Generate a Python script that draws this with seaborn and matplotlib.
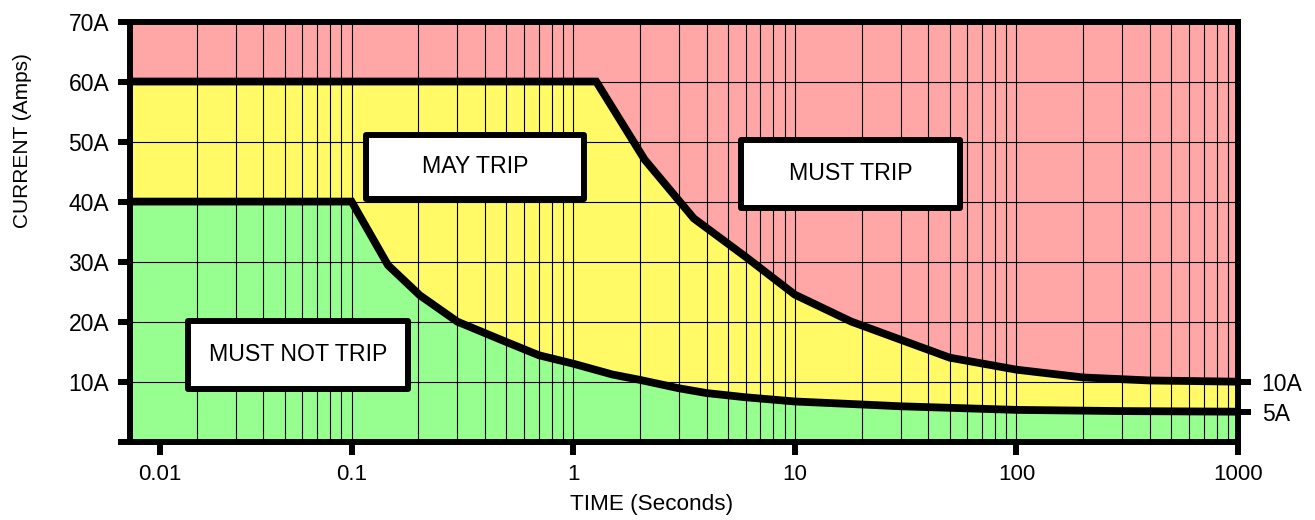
import numpy as np
import matplotlib
matplotlib.use("Agg")
import matplotlib.pyplot as plt
from matplotlib.patches import Rectangle
from matplotlib.ticker import LogLocator, NullLocator
from matplotlib.transforms import ScaledTranslation
import seaborn as sns

# Breaker trip characteristic: time (s) against current (A)
must_not_trip_time = [0.01, 0.1, 0.146, 0.203, 0.30, 0.5, 0.7, 1, 1.5, 2, 3, 4, 6, 10, 20, 30, 100, 300, 1000]
must_not_trip_amps = [40, 40, 29.4, 24.4, 20, 16.6, 14.4, 13, 11.2, 10.3, 8.9, 8.1, 7.4, 6.7, 6.2, 5.9, 5.3, 5.1, 5]

must_trip_time = [0.01, 1.27, 2.1, 3.5, 6, 10, 18, 30, 50, 100, 200, 400, 1000]
must_trip_amps = [60, 60, 47, 37.2, 30.8, 24.5, 20, 17, 14, 12, 10.7, 10.2, 10]

time_ticks = [0.01, 0.1, 1, 10, 100, 1000]
time_tick_labels = ["0.01", "0.1", "1", "10", "100", "1000"]
current_ticks = [0, 10, 20, 30, 40, 50, 60, 70]
current_tick_labels = ["", "10A", "20A", "30A", "40A", "50A", "60A", "70A"]
limit_ticks = [5, 10]
limit_tick_labels = ["5A", "10A"]

zone_labels = ["MUST NOT TRIP", "MAY TRIP", "MUST TRIP"]
# label boxes in axes fraction: (x0, y0, x1, y1)
zone_boxes = [(0.0523, 0.1261, 0.2506, 0.2872),
              (0.2130, 0.5780, 0.4095, 0.7306),
              (0.5514, 0.5569, 0.7490, 0.7180)]

RED = "#FFA6A6"
YELLOW = "#FFFA66"
GREEN = "#96FF8F"

sns.set_theme(style="white")
plt.rcParams["font.family"] = ["Liberation Sans", "DejaVu Sans"]

W, H = 1315, 520
fig = plt.figure(figsize=(W / 100, H / 100), dpi=100)
ax = fig.add_axes([130 / W, 1 - 441.7 / H, 1108 / W, 420.2 / H])

ax.set_xscale("log")
ax.set_xlim(0.01, 1000)
ax.set_ylim(0, 70)

# zones: yellow background, green below the lower curve, red above the upper one
ax.set_facecolor(YELLOW)
ax.fill_between(must_not_trip_time, 0, must_not_trip_amps, color=GREEN, lw=0, zorder=0.5)
ax.fill_between(must_trip_time, must_trip_amps, 70, color=RED, lw=0, zorder=0.5)

sns.lineplot(x=must_not_trip_time, y=must_not_trip_amps, ax=ax, color="black",
             linewidth=5.6, sort=False, zorder=3, solid_joinstyle="miter")
sns.lineplot(x=must_trip_time, y=must_trip_amps, ax=ax, color="black",
             linewidth=5.6, sort=False, zorder=3, solid_joinstyle="miter")

# grid
ax.set_axisbelow("line")
ax.xaxis.set_minor_locator(LogLocator(base=10, subs=np.arange(2, 10), numticks=50))
ax.yaxis.set_minor_locator(NullLocator())
ax.grid(True, which="both", axis="x", color="black", linewidth=0.8)
ax.grid(True, which="major", axis="y", color="black", linewidth=0.8)

# axes frame
for s in ax.spines.values():
    s.set_visible(True)
    s.set_linewidth(4.3)
    s.set_color("black")
    s.set_capstyle("projecting")
    s.set_zorder(4)

ax.set_xticks(time_ticks, labels=time_tick_labels)
ax.set_yticks(current_ticks, labels=current_tick_labels)
ax.tick_params(axis="x", which="major", bottom=True, direction="out", length=9,
               width=4.3, pad=7, labelsize=16, color="black", labelcolor="black")
ax.tick_params(axis="x", which="minor", bottom=True, length=0)
ax.tick_params(axis="y", which="major", left=True, direction="out", length=9,
               width=4.3, pad=6, labelsize=16.5, color="black", labelcolor="black")

# the 0.01 tick sits slightly inside the left edge
shift = ScaledTranslation(30 / 100, 0, fig.dpi_scale_trans)
first = ax.xaxis.get_major_ticks()[0]
first.label1.set_transform(first.label1.get_transform() + shift)
first.tick1line.set_transform(first.tick1line.get_transform() + shift)

# limit currents on the right edge
sec = ax.secondary_yaxis("right")
sec.set_yticks(limit_ticks, labels=limit_tick_labels)
sec.tick_params(axis="y", right=True, labelright=True, direction="out", length=9,
                width=4.3, pad=8, labelsize=16.5, color="black", labelcolor="black")
for s in sec.spines.values():
    s.set_visible(False)

ax.set_xlabel("TIME (Seconds)", fontsize=16.2, color="black")
ax.xaxis.label.set_va("center")
ax.xaxis.set_label_coords(0.4707, -0.1506)
ax.set_ylabel("CURRENT (Amps)", fontsize=15, color="black")
ax.yaxis.label.set_va("center")
ax.yaxis.set_label_coords(-0.0966, 0.717)

# zone label boxes
for label, (x0, y0, x1, y1) in zip(zone_labels, zone_boxes):
    ax.add_patch(Rectangle((x0, y0), x1 - x0, y1 - y0, transform=ax.transAxes,
                           facecolor="white", edgecolor="black", linewidth=4.3,
                           joinstyle="round", zorder=5))
    ax.text((x0 + x1) / 2, (y0 + y1) / 2, label, transform=ax.transAxes,
            ha="center", va="center", fontsize=16.7, color="black", zorder=6)

fig.savefig("out.png", dpi=100)
